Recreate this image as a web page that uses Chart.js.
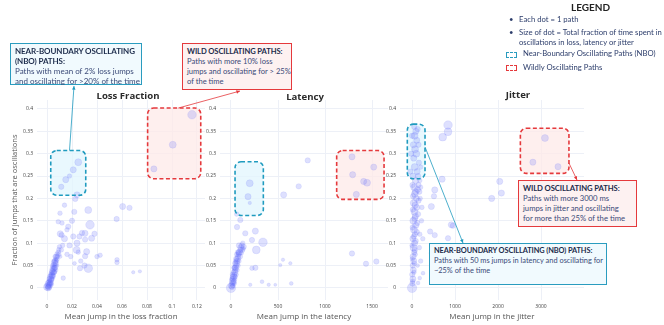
<!DOCTYPE html>
<html>
<head>
<meta charset="utf-8">
<script src="https://cdn.jsdelivr.net/npm/chart.js@4.4.0/dist/chart.umd.min.js"></script>
<style>
  body { margin: 0; background: #fff; font-family: Lato, sans-serif; }
  #wrap { position: relative; width: 664px; height: 325px; overflow: hidden; }
  canvas { position: absolute; left: 0; top: 0; }
  .note { position: absolute; box-sizing: border-box; font-size: 7.5px; line-height: 10px; color: #3b4a78; padding: 2px 4px; white-space: nowrap; }
  .note b { color: #1c2b4b; letter-spacing: -0.1px; }
  .nbo { border: 1.3px solid #2a9cbf; background: #f1fafe; }
  .wild { border: 1.3px solid #e5393c; background: #fdf1f1; }
  .ttl { position: absolute; font-family: 'Open Sans', sans-serif; font-weight: bold; font-size: 9.6px; color: #2b2b2b; transform: translateX(-50%); }
  .leg { position: absolute; font-size: 7.7px; line-height: 9.5px; color: #2c3d6b; white-space: nowrap; }
  .ico { position: absolute; width: 9px; height: 4px; border-width: 1.3px; border-style: dashed; }
</style>
</head>
<body>
<div id="wrap">
  <canvas id="loss" width="664" height="325"></canvas>
  <canvas id="latency" width="664" height="325"></canvas>
  <canvas id="jitter" width="664" height="325"></canvas>

  <div class="ttl" style="left:128px;top:89px">Loss Fraction</div>
  <div class="ttl" style="left:305px;top:90px">Latency</div>
  <div class="ttl" style="left:518px;top:88px">Jitter</div>

  <div class="note nbo" style="left:10px;top:43px;width:132px;height:42px;font-size:8px">
    <b>NEAR-BOUNDARY OSCILLATING<br>(NBO) PATHS:</b><br>Paths with mean of 2% loss jumps<br>and oscillating for &gt;20% of the time
  </div>
  <div class="note wild" style="left:182px;top:43px;width:110px;height:47px;font-size:7.6px">
    <b>WILD OSCILLATING PATHS:</b><br>Paths with more 10% loss<br>jumps and oscillating for &gt; 25%<br>of the time
  </div>
  <div class="note nbo" style="left:429px;top:243px;width:178px;height:42px;font-size:7.4px">
    <b>NEAR-BOUNDARY OSCILLATING (NBO) PATHS:</b><br>Paths with 50 ms jumps in latency and oscillating for<br>~25% of the time
  </div>
  <div class="note wild" style="left:518px;top:180px;width:119px;height:47px;font-size:7.7px">
    <b>WILD OSCILLATING PATHS:</b><br>Paths with more 3000 ms<br>jumps in jitter and oscillating<br>for more than 25% of the time
  </div>

  <div class="leg" style="left:571px;top:3px;font-size:10px;font-weight:bold;color:#222">LEGEND</div>
  <div class="leg" style="left:509px;top:15px">&bull;</div>
  <div class="leg" style="left:519px;top:15px">Each dot = 1 path</div>
  <div class="leg" style="left:509px;top:28px">&bull;</div>
  <div class="leg" style="left:519px;top:28px">Size of dot = Total fraction of time spent in<br>oscillations in loss, latency or jitter</div>
  <div class="ico" style="left:506px;top:52px;border-color:#2a9cbf"></div>
  <div class="leg" style="left:523px;top:49px">Near-Boundary Oscillating Paths (NBO)</div>
  <div class="ico" style="left:506px;top:65px;border-color:#e5393c"></div>
  <div class="leg" style="left:523px;top:63px">Wildly Oscillating Paths</div>
</div>

<script>
// each point: [mean jump, fraction of jumps that are oscillations, fraction of time oscillating]
const lossPoints = [
  [0,0.002,0.6],[0.0005,0.005,0.5],[0.001,0.003,0.4],[0.001,0.01,0.5],[0.0015,0.007,0.4],[0.0015,0.015,0.3],
  [0.002,0.012,0.5],[0.002,0.02,0.4],[0.0025,0.016,0.3],[0.0025,0.025,0.4],[0.003,0.02,0.5],[0.003,0.03,0.3],
  [0.0035,0.026,0.4],[0.0035,0.034,0.3],[0.004,0.028,0.5],[0.004,0.038,0.4],[0.0045,0.033,0.3],[0.0045,0.043,0.4],
  [0.005,0.036,0.5],[0.005,0.047,0.3],[0.0055,0.042,0.4],[0.0055,0.052,0.3],[0.006,0.045,0.4],[0.006,0.056,0.5],
  [0.0065,0.05,0.3],[0.0065,0.06,0.4],[0.007,0.055,0.4],[0.007,0.065,0.3],[0.0075,0.06,0.3],[0.0075,0.07,0.4],
  [0.008,0.064,0.3],[0.008,0.076,0.3],[0.0085,0.07,0.3],[0.009,0.08,0.3],[0.0095,0.086,0.3],[0.01,0.092,0.3],
  [0.003,0.012,0.4],[0.004,0.02,0.3],[0.005,0.028,0.3],[0.002,0.006,0.5],[0.006,0.035,0.3],[0.0045,0.05,0.3],
  [0.0055,0.06,0.3],[0.0065,0.07,0.3],[0.008,0.05,0.2],[0.0105,0.07,0.2],[0.0115,0.085,0.3],[0.0125,0.095,0.3],
  [0.001,0.0,0.5],[0.0035,0.008,0.3],[0.0025,0.01,0.4],[0.0045,0.025,0.4],[0.0055,0.035,0.4],[0.0065,0.045,0.4],
  [0.007,0.04,0.3],[0.0035,0.018,0.4],[0.0015,0.002,0.5],[0.0095,0.075,0.3],
  [0.116,0.387,0.8],[0.1006,0.32,0.6],[0.0855,0.266,0.5],
  [0.025,0.281,0.6],[0.021,0.264,0.5],[0.015,0.242,0.5],[0.0114,0.226,0.4],[0.018,0.25,0.3],
  [0.024,0.208,0.5],[0.0226,0.199,0.4],[0.033,0.174,0.6],[0.0218,0.17,0.4],[0.0104,0.167,0.3],[0.009,0.148,0.3],
  [0.0605,0.182,0.5],[0.066,0.179,0.4],[0.0557,0.154,0.4],
  [0.0344,0.141,0.8],[0.017,0.137,0.4],[0.0304,0.122,0.5],[0.0117,0.118,0.4],[0.021,0.115,0.4],[0.0357,0.111,0.5],
  [0.0106,0.121,0.5],[0.028,0.123,0.4],[0.038,0.121,0.4],[0.024,0.1,0.5],[0.0305,0.108,0.4],
  [0.0237,0.085,0.6],[0.0317,0.081,0.5],[0.04,0.07,0.3],[0.0425,0.073,0.3],[0.0305,0.071,0.4],
  [0.033,0.044,0.8],[0.0264,0.044,0.4],[0.03,0.05,0.4],[0.013,0.022,0.3],
  [0.056,0.063,0.3],[0.056,0.057,0.3],[0.069,0.035,0.15],[0.0743,0.037,0.15],
  [0.014,0.185,0.3],[0.012,0.145,0.3],[0.016,0.13,0.3],[0.02,0.15,0.4],[0.026,0.115,0.4],[0.018,0.095,0.4],
  [0.014,0.11,0.5],[0.027,0.06,0.3],[0.022,0.055,0.2],[0.019,0.07,0.3],[0.025,0.08,0.3],[0.016,0.075,0.3]
];

const latencyPoints = [
  [0,0.0,0.9],[5,0.005,0.5],[10,0.01,0.4],[15,0.015,0.5],[20,0.02,0.4],[25,0.012,0.4],[30,0.025,0.5],[35,0.03,0.4],
  [40,0.02,0.3],[40,0.035,0.5],[45,0.04,0.4],[50,0.045,0.5],[55,0.03,0.3],[55,0.05,0.4],[60,0.055,0.5],[65,0.04,0.3],
  [65,0.06,0.4],[70,0.065,0.5],[75,0.05,0.3],[75,0.07,0.4],[80,0.075,0.4],[85,0.06,0.3],[90,0.08,0.5],[95,0.07,0.4],
  [100,0.085,0.4],[105,0.09,0.5],[110,0.078,0.3],[115,0.095,0.4],[120,0.085,0.4],[125,0.1,0.3],[30,0.045,0.3],
  [25,0.035,0.3],[50,0.06,0.3],[60,0.075,0.3],[20,0.005,0.3],[35,0.01,0.3],[45,0.025,0.3],[15,0.03,0.3],
  [70,0.08,0.3],[85,0.095,0.4],[130,0.088,0.3],[10,0.002,0.4],[30,0.015,0.4],[45,0.055,0.4],[55,0.065,0.4],
  [20,0.025,0.4],[40,0.045,0.4],[8,0.02,0.3],
  [1287,0.293,0.5],[1518,0.27,0.5],[1294,0.253,0.5],[1411,0.238,0.5],[1447,0.235,0.6],[1333,0.209,0.5],
  [816,0.285,0.4],[720,0.227,0.4],[560,0.208,0.5],[199,0.234,0.6],[181,0.204,0.5],[99,0.152,0.4],[64,0.136,0.4],
  [152,0.122,0.4],[259,0.127,0.5],[340,0.102,0.8],[269,0.085,0.7],[223,0.107,0.4],[135,0.092,0.4],[82,0.078,0.4],
  [1287,0.077,0.4],[1436,0.054,0.4],[1546,0.059,0.4],[553,0.063,0.15],[631,0.055,0.15],[524,0.051,0.15],
  [641,0.01,0.2],[401,0.007,0.15],[330,0.014,0.2],[205,0.007,0.15],[471,0.007,0.1],[259,0.045,0.4],[223,0.044,0.3],
  [60,0.165,0.3],[200,0.19,0.15]
];

const jitterPoints = [
  [0,0,0.9],[10,0.01,0.4],[20,0.02,0.5],[5,0.03,0.4],[30,0.04,0.5],[15,0.05,0.4],[40,0.06,0.5],[25,0.07,0.5],
  [50,0.08,0.4],[35,0.09,0.6],[60,0.1,0.5],[20,0.11,0.5],[70,0.12,0.4],[45,0.13,0.6],[90,0.14,0.5],[30,0.15,0.6],
  [80,0.16,0.5],[55,0.17,0.6],[110,0.18,0.5],[40,0.19,0.6],[100,0.2,0.5],[65,0.21,0.6],[130,0.22,0.5],[50,0.225,0.6],
  [150,0.23,0.4],[85,0.24,0.5],[20,0.25,0.5],[120,0.26,0.5],[60,0.27,0.6],[160,0.28,0.4],[40,0.29,0.5],[100,0.3,0.6],
  [70,0.31,0.6],[30,0.32,0.5],[110,0.33,0.5],[60,0.34,0.6],[90,0.35,0.5],
  [15,0.015,0.3],[45,0.035,0.3],[55,0.055,0.3],[10,0.065,0.3],[75,0.075,0.3],[65,0.085,0.4],[0,0.095,0.3],
  [85,0.105,0.4],[40,0.115,0.4],[110,0.125,0.4],[15,0.135,0.4],[120,0.145,0.4],[65,0.155,0.5],[140,0.165,0.4],
  [20,0.175,0.4],[75,0.185,0.5],[150,0.195,0.4],[25,0.205,0.4],[170,0.215,0.4],[85,0.215,0.5],[190,0.2,0.3],
  [200,0.225,0.3],[10,0.23,0.4],[140,0.25,0.4],[180,0.24,0.3],[-40,0.26,0.4],[200,0.27,0.3],[-20,0.3,0.4],
  [150,0.32,0.4],[0,0.34,0.4],[130,0.355,0.4],[50,0.36,0.4],[220,0.15,0.3],[250,0.11,0.3],[180,0.12,0.3],
  [230,0.18,0.3],[170,0.09,0.3],[200,0.06,0.3],[130,0.05,0.2],
  [837,0.364,0.8],[837,0.349,0.7],[713,0.337,0.7],[700,0.243,0.5],[528,0.219,0.5],[510,0.205,0.4],[449,0.182,0.5],
  [1853,0.2,0.5],[2040,0.238,0.5],[2079,0.212,0.5],[950,0.139,0.4],[914,0.141,0.5],[420,0.126,0.4],[837,0.111,0.4],
  [528,0.118,0.4],[449,0.078,0.3],[498,0.07,0.3],[256,0.033,0.2],[179,0.022,0.2],[140,0.011,0.2],
  [3092,0.335,0.6],[2811,0.281,0.5],[3395,0.271,0.5]
];

const yTicks = [0, 0.05, 0.1, 0.15, 0.2, 0.25, 0.3, 0.35, 0.4];
const lossTicks = [0, 0.02, 0.04, 0.06, 0.08, 0.1, 0.12];
const latencyTicks = [0, 500, 1000, 1500];
const jitterTicks = [0, 1000, 2000, 3000];

// highlighted regions, in data units; arrow goes from [ax, ay] to a page pixel
const lossZones = [
  { kind: 'nbo', x0: 0.003, x1: 0.031, y0: 0.207, y1: 0.307, from: [0.018, 0.307], to: [74, 86] },
  { kind: 'wild', x0: 0.0805, x1: 0.123, y0: 0.244, y1: 0.402, from: [0.105, 0.402], to: [240, 91] }
];
const latencyZones = [
  { kind: 'nbo', x0: 43, x1: 344, y0: 0.162, y1: 0.282 },
  { kind: 'wild', x0: 1124, x1: 1628, y0: 0.198, y1: 0.307 }
];
const jitterZones = [
  { kind: 'nbo', x0: -110, x1: 302, y0: 0.244, y1: 0.366, from: [302, 0.315], to: [463, 243] },
  { kind: 'wild', x0: 2520, x1: 3650, y0: 0.256, y1: 0.357, from: [3650, 0.279], to: [577, 180] }
];

const zoneColors = {
  nbo: { line: '#1f9bbf', fill: 'rgba(226,245,253,0.75)' },
  wild: { line: '#e5393c', fill: 'rgba(253,234,232,0.75)' }
};

function roundRect(ctx, x, y, w, h, r) {
  ctx.beginPath();
  ctx.moveTo(x + r, y);
  ctx.arcTo(x + w, y, x + w, y + h, r);
  ctx.arcTo(x + w, y + h, x, y + h, r);
  ctx.arcTo(x, y + h, x, y, r);
  ctx.arcTo(x, y, x + w, y, r);
  ctx.closePath();
}

const zonePlugin = {
  id: 'zones',
  beforeDatasetsDraw(chart, args, opts) {
    const { ctx, scales: { x, y } } = chart;
    (opts.list || []).forEach(z => {
      const c = zoneColors[z.kind];
      const px0 = x.getPixelForValue(z.x0), px1 = x.getPixelForValue(z.x1);
      const py1 = y.getPixelForValue(z.y1), py0 = y.getPixelForValue(z.y0);
      ctx.save();
      roundRect(ctx, px0, py1, px1 - px0, py0 - py1, 6);
      ctx.fillStyle = c.fill;
      ctx.fill();
      ctx.restore();
    });
  },
  afterDatasetsDraw(chart, args, opts) {
    const { ctx, scales: { x, y } } = chart;
    (opts.list || []).forEach(z => {
      const c = zoneColors[z.kind];
      const px0 = x.getPixelForValue(z.x0), px1 = x.getPixelForValue(z.x1);
      const py1 = y.getPixelForValue(z.y1), py0 = y.getPixelForValue(z.y0);
      ctx.save();
      roundRect(ctx, px0, py1, px1 - px0, py0 - py1, 6);
      ctx.setLineDash([4, 2.5]);
      ctx.lineWidth = 1.6;
      ctx.strokeStyle = c.line;
      ctx.stroke();
      if (z.from) {
        const sx = x.getPixelForValue(z.from[0]), sy = y.getPixelForValue(z.from[1]);
        const [tx, ty] = z.to;
        ctx.setLineDash([]);
        ctx.lineWidth = 0.8;
        ctx.beginPath();
        ctx.moveTo(sx, sy);
        ctx.lineTo(tx, ty);
        ctx.stroke();
        const a = Math.atan2(ty - sy, tx - sx);
        ctx.fillStyle = c.line;
        ctx.beginPath();
        ctx.moveTo(tx, ty);
        ctx.lineTo(tx - 4 * Math.cos(a - 0.45), ty - 4 * Math.sin(a - 0.45));
        ctx.lineTo(tx - 4 * Math.cos(a + 0.45), ty - 4 * Math.sin(a + 0.45));
        ctx.closePath();
        ctx.fill();
      }
      ctx.restore();
    });
  }
};

const fmt = v => String(+(+v).toFixed(4));

function makeChart(id, points, cfg) {
  new Chart(document.getElementById(id), {
    type: 'bubble',
    data: {
      datasets: [{
        data: points.map(p => ({ x: p[0], y: p[1], r: 1.1 + p[2] * 4 })),
        backgroundColor: 'rgba(99,110,250,0.21)',
        borderColor: 'rgba(99,110,250,0.2)',
        borderWidth: 0.6
      }]
    },
    options: {
      responsive: false,
      animation: false,
      layout: { padding: { left: cfg.padL, right: cfg.padR, top: 100, bottom: 0 } },
      plugins: { legend: { display: false }, tooltip: { enabled: false }, zones: { list: cfg.zones } },
      scales: {
        x: {
          type: 'linear', min: cfg.xMin, max: cfg.xMax,
          afterBuildTicks: ax => { ax.ticks = cfg.xTicks.map(v => ({ value: v })); },
          afterFit: ax => { ax.height = 25; },
          ticks: { font: { size: 5, family: 'Open Sans' }, color: '#444', padding: 4, maxRotation: 0, callback: fmt },
          grid: { color: '#edf0f7', drawTicks: false },
          border: { display: false },
          title: { display: true, text: cfg.xTitle, color: '#555', font: { size: 8, family: 'Open Sans' }, padding: { top: 0, bottom: 3 } }
        },
        y: {
          type: 'linear', min: -0.027, max: 0.42,
          afterBuildTicks: ax => { ax.ticks = yTicks.map(v => ({ value: v })); },
          afterFit: ax => { ax.width = cfg.yW; },
          ticks: { font: { size: 5, family: 'Open Sans' }, color: '#444', padding: 4, callback: fmt },
          grid: { color: '#edf0f7', drawTicks: false },
          border: { display: false },
          title: { display: !!cfg.yTitle, text: cfg.yTitle || '', color: '#555', font: { size: 7.5, family: 'Open Sans' }, padding: { top: 2, bottom: 0 } }
        }
      }
    },
    plugins: [zonePlugin]
  });
}

makeChart('loss', lossPoints, {
  padL: 8, padR: 459, yW: 29, xMin: -0.008, xMax: 0.1264, xTicks: lossTicks, zones: lossZones,
  xTitle: 'Mean jump in the loss fraction', yTitle: 'Fraction of jumps that are oscillations'
});
makeChart('latency', latencyPoints, {
  padL: 205, padR: 276, yW: 15, xMin: -117, xMax: 1670, xTicks: latencyTicks, zones: latencyZones,
  xTitle: 'Mean jump in the latency'
});
makeChart('jitter', jitterPoints, {
  padL: 385, padR: 80, yW: 15, xMin: -280, xMax: 4000, xTicks: jitterTicks, zones: jitterZones,
  xTitle: 'Mean jump in the jitter'
});
</script>
</body>
</html>
